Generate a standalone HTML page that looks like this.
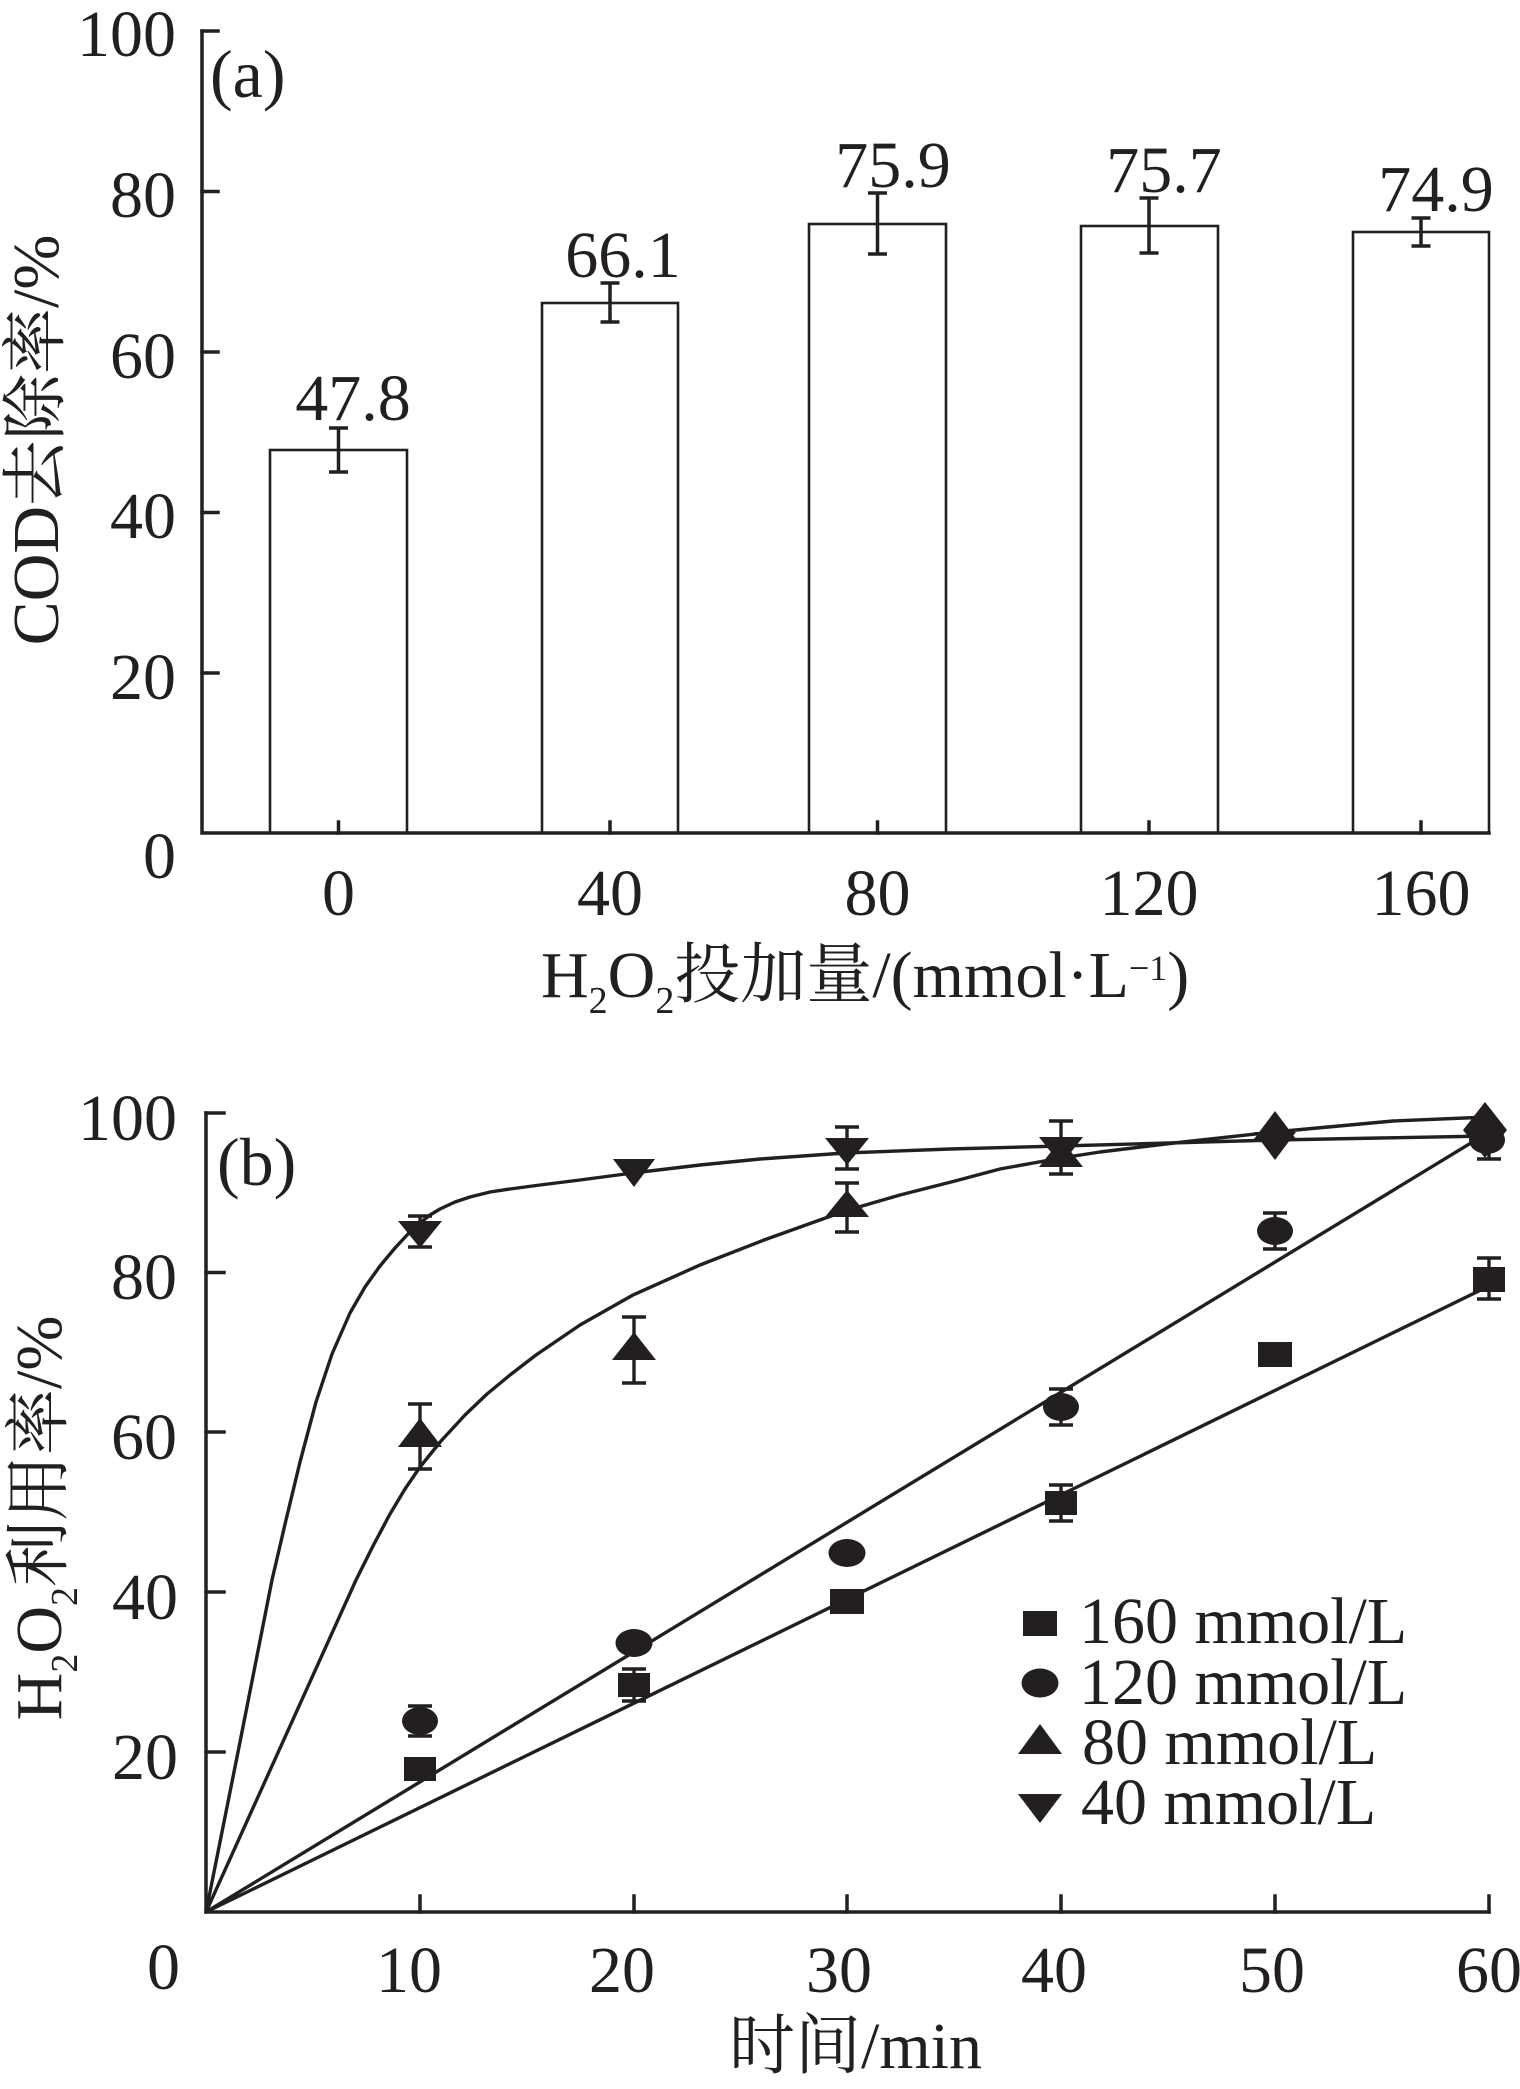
<!DOCTYPE html>
<html>
<head>
<meta charset="utf-8">
<style>
  html, body { margin:0; padding:0; background:#fff; }
  svg { display:block; }
  text { font-family: "Liberation Serif", "Noto Serif CJK SC", serif; fill:#231f20; font-size:66px; }
</style>
</head>
<body>
<svg width="1520" height="2089" viewBox="0 0 1520 2089" xmlns="http://www.w3.org/2000/svg">
  <rect x="0" y="0" width="1520" height="2089" fill="#fff"/>

  <!-- ================= Panel (a) ================= -->
  <g stroke="#231f20" stroke-width="2.6" fill="#fff">
    <rect x="270" y="450" width="137" height="383"/>
    <rect x="542" y="303" width="136" height="530"/>
    <rect x="809" y="224" width="137" height="609"/>
    <rect x="1081" y="226" width="137" height="607"/>
    <rect x="1353" y="232" width="136" height="601"/>
  </g>
  <!-- error bars (a) -->
  <g stroke="#231f20" stroke-width="3.5" fill="none">
    <path d="M338.5 428 V472 M329 428 H348 M329 472 H348"/>
    <path d="M610 283 V322 M600.5 283 H619.5 M600.5 322 H619.5"/>
    <path d="M877.5 193 V254 M868 193 H887 M868 254 H887"/>
    <path d="M1149 198 V253 M1139.5 198 H1158.5 M1139.5 253 H1158.5"/>
    <path d="M1421 218 V246 M1411.5 218 H1430.5 M1411.5 246 H1430.5"/>
  </g>
  <!-- axes (a) -->
  <g stroke="#231f20" stroke-width="3.5" fill="none" stroke-linecap="square">
    <path d="M202 31 V833 H1489"/>
    <path d="M202 31 H218 M202 191.5 H218 M202 352 H218 M202 512.5 H218 M202 673 H218"/>
    <path d="M338.5 822 V833 M610 822 V833 M877.5 822 V833 M1149 822 V833 M1421 822 V833"/>
  </g>
  <!-- y tick labels (a) -->
  <g text-anchor="end">
    <text x="176" y="56">100</text>
    <text x="176" y="217">80</text>
    <text x="176" y="378">60</text>
    <text x="176" y="538">40</text>
    <text x="176" y="699">20</text>
    <text x="176" y="878">0</text>
  </g>
  <!-- x tick labels (a) -->
  <g text-anchor="middle">
    <text x="338.5" y="915">0</text>
    <text x="610" y="915">40</text>
    <text x="877.5" y="915">80</text>
    <text x="1149" y="915">120</text>
    <text x="1421" y="915">160</text>
  </g>
  <!-- bar value labels -->
  <g text-anchor="middle" style="font-size:65px">
    <text x="353" y="420">47.8</text>
    <text x="623" y="277">66.1</text>
    <text x="893" y="187">75.9</text>
    <text x="1164" y="192">75.7</text>
    <text x="1436" y="211">74.9</text>
  </g>
  <text x="210" y="97" style="font-size:68px">(a)</text>
  <!-- x title (a) -->
  <text x="541" y="997">H<tspan dy="16" style="font-size:38px">2</tspan><tspan dy="-16">O</tspan><tspan dy="16" style="font-size:38px">2</tspan><tspan dy="-16">投加量/(mmol·L</tspan><tspan dy="-17" style="font-size:36px">−1</tspan><tspan dy="17">)</tspan></text>
  <!-- y title (a) -->
  <text transform="translate(58,440) rotate(-90)" text-anchor="middle">COD去除率/%</text>

  <!-- ================= Panel (b) ================= -->
  <!-- axes (b) -->
  <g stroke="#231f20" stroke-width="3.5" fill="none" stroke-linecap="square">
    <path d="M206 1113 V1912 H1489"/>
    <path d="M206 1113 H224 M206 1272.5 H224 M206 1432 H224 M206 1592 H224 M206 1752 H224"/>
    <path d="M420 1896 V1912 M634 1896 V1912 M847 1896 V1912 M1061 1896 V1912 M1275 1896 V1912 M1489 1896 V1912"/>
  </g>
  <!-- y tick labels (b) -->
  <g text-anchor="end">
    <text x="177" y="1140">100</text>
    <text x="177" y="1299">80</text>
    <text x="177" y="1459">60</text>
    <text x="178" y="1619">40</text>
    <text x="178" y="1779">20</text>
    <text x="180" y="1989">0</text>
  </g>
  <!-- x tick labels (b) -->
  <g text-anchor="middle">
    <text x="409" y="1992">10</text>
    <text x="622" y="1992">20</text>
    <text x="839" y="1992">30</text>
    <text x="1054" y="1992">40</text>
    <text x="1272" y="1992">50</text>
    <text x="1489" y="1992">60</text>
  </g>
  <text x="217" y="1185" style="font-size:68px">(b)</text>
  <!-- x title (b) -->
  <text x="729" y="2068">时间/min</text>
  <!-- y title (b) -->
  <text transform="translate(61,1518) rotate(-90)" text-anchor="middle">H<tspan dy="16" style="font-size:38px">2</tspan><tspan dy="-16">O</tspan><tspan dy="16" style="font-size:38px">2</tspan><tspan dy="-16">利用率/%</tspan></text>

  <!-- fit curves -->
  <g stroke="#231f20" stroke-width="3.4" fill="none" stroke-linejoin="round" stroke-linecap="round">
    <!-- 40 mmol/L -->
    <polyline points="206,1912 240,1742 272,1580 286,1520 300,1462 316,1402 332,1354 350,1313 365,1287 380,1266 395,1248 408,1234 420,1223 430,1215 440,1209 455,1202 470,1197 490,1192 510,1189 540,1185 580,1180 633,1173 700,1165 760,1159 845,1153 950,1149 1061,1146 1170,1143 1275,1140 1380,1138 1489,1136"/>
    <!-- 80 mmol/L -->
    <polyline points="206,1912 356,1580 373,1546 390,1514 405,1489 420,1467 441,1441 465,1415 487,1394 510,1375 536,1355 580,1325 633,1295 700,1265 764,1240 845,1211 900,1195 955,1181 1000,1169 1061,1158 1100,1152 1174,1143 1274,1132 1393,1121 1489,1117"/>
    <!-- 120 mmol/L -->
    <line x1="206" y1="1912" x2="1489" y2="1132"/>
    <!-- 160 mmol/L -->
    <line x1="206" y1="1912" x2="1489" y2="1286"/>
  </g>

  <!-- error bars (b) -->
  <g stroke="#231f20" stroke-width="3.4" fill="none">
    <path d="M634 1669 V1701 M622 1669 H646 M622 1701 H646"/>
    <path d="M1061 1485 V1521 M1049 1485 H1073 M1049 1521 H1073"/>
    <path d="M1489 1258 V1299 M1477 1258 H1501 M1477 1299 H1501"/>
    <path d="M420 1706 V1736 M408 1706 H432 M408 1736 H432"/>
    <path d="M1061 1389 V1425 M1049 1389 H1073 M1049 1425 H1073"/>
    <path d="M1275 1213 V1249 M1263 1213 H1287 M1263 1249 H1287"/>
    <path d="M420 1404 V1469 M408 1404 H432 M408 1469 H432"/>
    <path d="M634 1317 V1383 M622 1317 H646 M622 1383 H646"/>
    <path d="M847 1183 V1232 M835 1183 H859 M835 1232 H859"/>
    <path d="M1061 1121 V1174 M1049 1121 H1073 M1049 1174 H1073"/>
    <path d="M420 1216 V1247 M408 1216 H432 M408 1247 H432"/>
    <path d="M847 1127 V1169 M835 1127 H859 M835 1169 H859"/>
    <path d="M1489 1140 V1159 M1477 1159 H1501"/>
  </g>

  <!-- markers -->
  <g fill="#231f20" stroke="none">
    <rect x="404" y="1757" width="32" height="24"/>
    <rect x="618" y="1673" width="32" height="24"/>
    <rect x="830" y="1589" width="34" height="25"/>
    <rect x="1045" y="1491" width="32" height="24"/>
    <rect x="1258" y="1342" width="34" height="25"/>
    <rect x="1473" y="1267" width="32" height="25"/>
    <ellipse cx="420" cy="1721" rx="18" ry="14"/>
    <ellipse cx="634" cy="1643" rx="18.5" ry="14"/>
    <ellipse cx="847" cy="1553" rx="18.5" ry="14"/>
    <ellipse cx="1061" cy="1407" rx="18" ry="14"/>
    <ellipse cx="1275" cy="1231" rx="18" ry="14"/>
    <ellipse cx="1487" cy="1140" rx="18" ry="14"/>
    <polygon points="420,1418 398,1447 442,1447"/>
    <polygon points="634,1332 612,1360 656,1360"/>
    <polygon points="847,1190 825,1217 869,1217"/>
    <polygon points="1061,1139 1039,1167 1083,1167"/>
    <polygon points="1275,1111 1254,1139 1296,1139"/>
    <polygon points="1485,1102 1463,1130 1507,1130"/>
    <polygon points="398,1221 442,1221 420,1248"/>
    <polygon points="613,1159 655,1159 634,1187"/>
    <polygon points="825,1138 869,1138 847,1165"/>
    <polygon points="1039,1137 1083,1137 1061,1165"/>
    <polygon points="1254,1132 1296,1132 1275,1160"/>
    <polygon points="1463,1130 1507,1130 1485,1158"/>
  </g>

  <!-- legend -->
  <g fill="#231f20">
    <rect x="1023" y="1611" width="34" height="25"/>
    <ellipse cx="1040" cy="1683" rx="18.5" ry="14.5"/>
    <polygon points="1040,1724 1018,1754 1062,1754"/>
    <polygon points="1018,1794 1062,1794 1040,1823"/>
  </g>
  <text x="1079" y="1643">160 mmol/L</text>
  <text x="1079" y="1704">120 mmol/L</text>
  <text x="1082" y="1764">80 mmol/L</text>
  <text x="1081" y="1824">40 mmol/L</text>
</svg>
</body>
</html>
